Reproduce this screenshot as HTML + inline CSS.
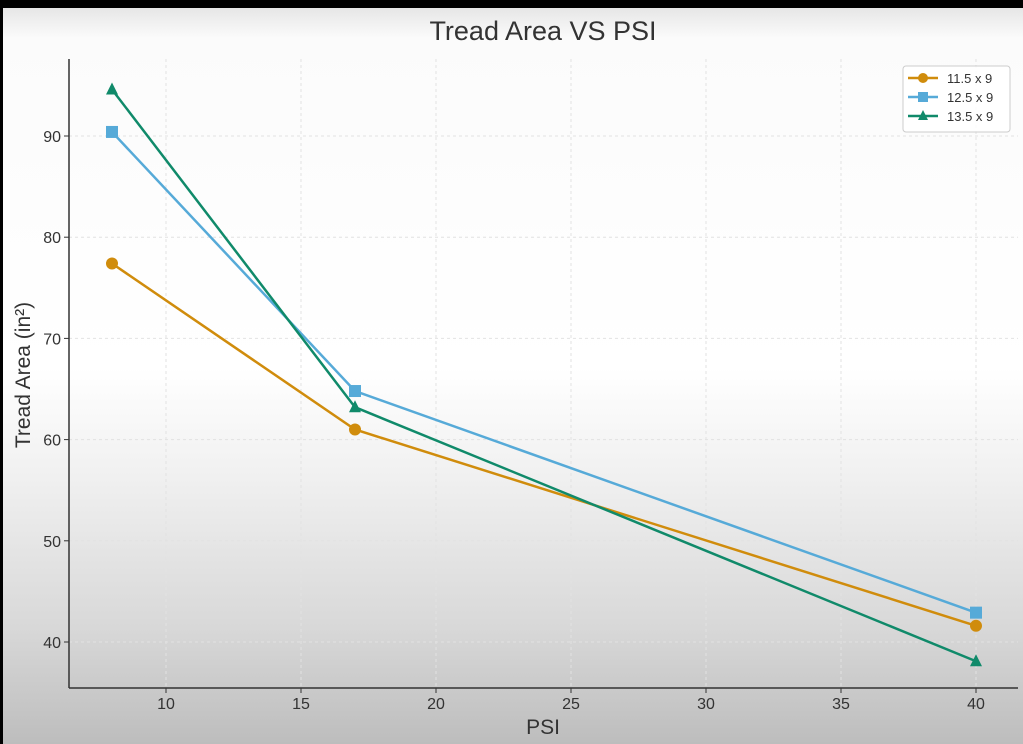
<!DOCTYPE html>
<html><head><meta charset="utf-8"><style>
html,body{margin:0;padding:0;width:1023px;height:744px;overflow:hidden;background:#000}
#bg{position:absolute;left:3px;top:8px;width:1020px;height:736px;background:linear-gradient(to bottom,#e6e6e6 0px,#fbfbfb 30px,#ffffff 360px,#f0f0f0 470px,#d8d8d8 620px,#bdbdbd 736px)}
svg{position:absolute;left:0;top:0}
text{font-family:"Liberation Sans","DejaVu Sans",sans-serif;fill:#333}
</style></head><body>
<div id="bg"></div>
<svg id="chart" width="1023" height="744">
<text x="543" y="40" font-size="27" text-anchor="middle">Tread Area VS PSI</text>
<g id="grid"></g><g id="axes"></g><g id="series"></g>
<text x="543" y="734" font-size="21" text-anchor="middle">PSI</text>
<text transform="translate(30,375) rotate(-90)" font-size="21" text-anchor="middle">Tread Area (in²)</text>
<g>
<rect x="903" y="66" width="107" height="66" rx="3" fill="#fff" fill-opacity="0.85" stroke="#ccc"/>
<g id="legend"></g></g>
</svg>
<script>
const psi=[8,17,40];
const seriesNames=["11.5 x 9","12.5 x 9","13.5 x 9"];
const s1=[77.4,61.0,41.6];
const s2=[90.4,64.8,42.9];
const s3=[94.6,63.2,38.1];
const xTicks=[10,15,20,25,30,35,40];
const yTicks=[40,50,60,70,80,90];
const colors=["#d08c0c","#56aad8","#108a6a"];
const markers=["circle","square","triangle"];
const NS="http://www.w3.org/2000/svg";
const X=v=>166+(v-10)*27, Y=v=>642-(v-40)*10.12;
function mk(t,a,p){const e=document.createElementNS(NS,t);for(const k in a)e.setAttribute(k,a[k]);p.appendChild(e);return e;}
const grid=document.getElementById('grid'),axes=document.getElementById('axes'),ser=document.getElementById('series'),leg=document.getElementById('legend');
xTicks.forEach(t=>{const g=mk('line',{x1:X(t),x2:X(t),y1:59,y2:688,stroke:'#e2e2e2','stroke-dasharray':'3,3'},grid);
mk('line',{x1:X(t),x2:X(t),y1:688,y2:693,stroke:'#333'},axes);
const l=mk('text',{x:X(t),y:709,'font-size':16,'text-anchor':'middle'},axes);l.textContent=t;});
yTicks.forEach(t=>{const g=mk('line',{x1:69,x2:1018,y1:Y(t),y2:Y(t),stroke:'#e2e2e2','stroke-dasharray':'3,3'},grid);
mk('line',{x1:64,x2:69,y1:Y(t),y2:Y(t),stroke:'#333'},axes);
const l=mk('text',{x:61,y:Y(t)+6,'font-size':16,'text-anchor':'end'},axes);l.textContent=t;});
const ya=mk('line',{x1:69,x2:69,y1:59,y2:688,stroke:'#333','stroke-width':1.5},axes);
const xa=mk('line',{x1:69,x2:1018,y1:688,y2:688,stroke:'#333','stroke-width':1.5},axes);
function marker(type,x,y,c,p,sz){let e;
if(type==='circle')e=mk('circle',{cx:x,cy:y,r:sz,fill:c},p);
else if(type==='square')e=mk('rect',{x:x-sz,y:y-sz,width:2*sz,height:2*sz,fill:c},p);
else e=mk('polygon',{points:`${x},${y-sz-1} ${x-sz},${y+sz-1} ${x+sz},${y+sz-1}`,fill:c},p);return e;}
[s1,s2,s3].forEach((d,i)=>{
const pl=mk('polyline',{points:d.map((v,j)=>X(psi[j])+','+Y(v)).join(' '),fill:'none',stroke:colors[i],'stroke-width':2.5},ser);

d.forEach((v,j)=>{const m=marker(markers[i],X(psi[j]),Y(v),colors[i],ser,6);});
const ly=78+i*19;
const ll=mk('line',{x1:908,x2:938,y1:ly,y2:ly,stroke:colors[i],'stroke-width':2.5},leg);
marker(markers[i],923,ly,colors[i],leg,5);
const lt=mk('text',{x:947,y:ly+5,'font-size':13},leg);lt.textContent=seriesNames[i];
});
</script>
</body></html>
